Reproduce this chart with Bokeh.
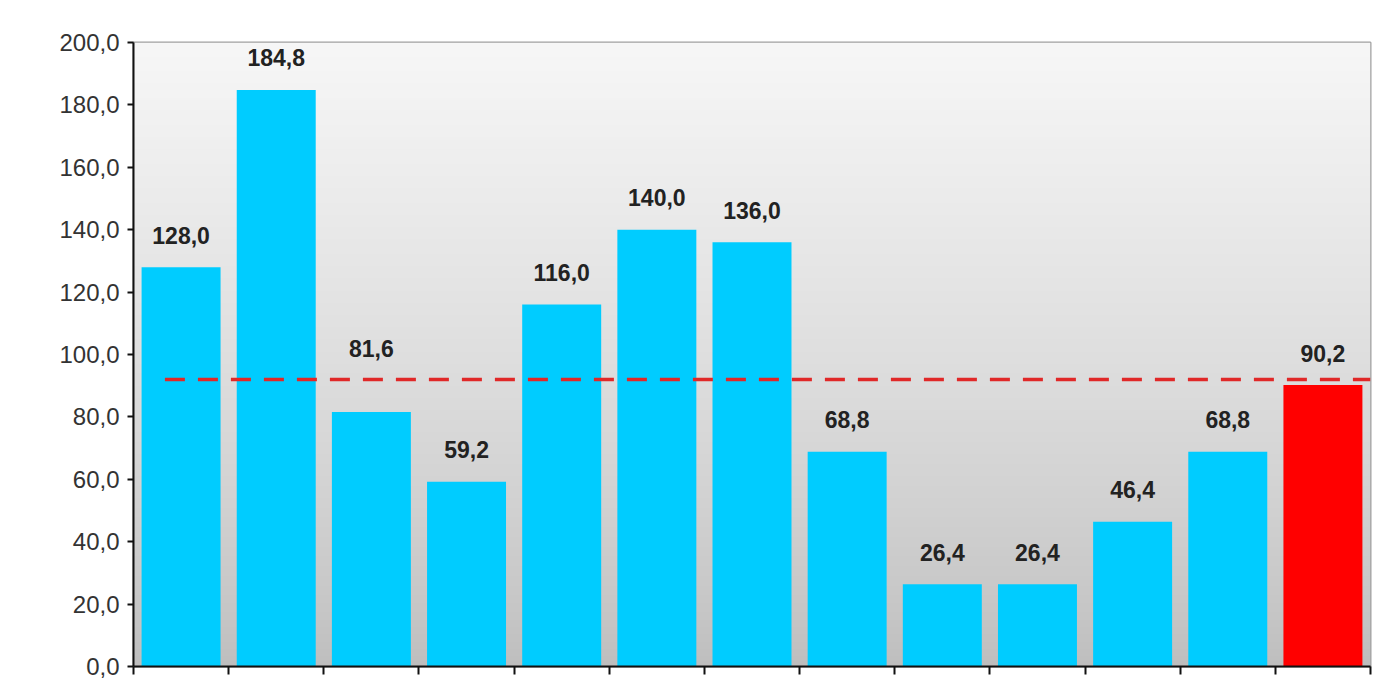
import numpy as np
from bokeh.plotting import figure
from bokeh.models import ColumnDataSource, FixedTicker, CustomJSTickFormatter, Range1d
from bokeh.core.properties import value
from bokeh.embed import file_html
from bokeh.resources import INLINE

# ---- data ----
values = [128.0, 184.8, 81.6, 59.2, 116.0, 140.0, 136.0, 68.8, 26.4, 26.4, 46.4, 68.8, 90.2]
bar_colors = ["#00CCFF"] * 12 + ["#FF0000"]
reference_line = 92.0
y_ticks = [0, 20, 40, 60, 80, 100, 120, 140, 160, 180, 200]

n = len(values)
cats = list(range(n))
labels = [f"{v:.1f}".replace(".", ",") for v in values]

TOP, BOTTOM = 42, 14
H = 680
FRAME_H = H - TOP - BOTTOM
px_per_unit = FRAME_H / 200.0
label_px = []
for v in values:
    off = 32
    if abs((v * px_per_unit + off) - reference_line * px_per_unit) < 15:
        off = reference_line * px_per_unit + 31 - v * px_per_unit
    label_px.append(off)
label_y = [v + o / px_per_unit for v, o in zip(values, label_px)]

src = ColumnDataSource(dict(x=cats, top=values, color=bar_colors, label=labels, ly=label_y))

p = figure(width=1379, height=H, output_backend="svg", toolbar_location=None,
           x_range=Range1d(-0.5, n - 0.5), y_range=Range1d(0, 200),
           min_border_left=133, min_border_right=9, min_border_top=TOP, min_border_bottom=BOTTOM)

# gradient background
rows = 256
t = np.linspace(0, 1, rows)
g = (190 + (247 - 190) * t ** 0.8).astype(np.uint32)
img = np.empty((rows, 1), dtype=np.uint32)
img[:, 0] = (255 << 24) | (g << 16) | (g << 8) | g
p.image_rgba(image=[img], x=-0.5, y=0, dw=n, dh=200)

p.vbar(x="x", top="top", bottom=0, width=0.83, color="color", line_color=None, source=src)

p.line(x=[cats[0] - 0.17, n - 0.5], y=[reference_line, reference_line],
       line_color="#E02828", line_width=3.5, line_dash="20 13")

p.text(x="x", y="ly", text="label", source=src, text_align="center", text_baseline="middle",
       text_font=value("Liberation Sans"), text_font_style="bold", text_font_size="23px",
       text_color="#222222")

p.xgrid.visible = False
p.ygrid.visible = False
p.background_fill_color = "white"
p.border_fill_color = "white"
p.outline_line_color = "#a0a0a0"
p.outline_line_width = 2

ya = p.yaxis[0]
ya.ticker = FixedTicker(ticks=y_ticks)
ya.formatter = CustomJSTickFormatter(code="return tick.toFixed(1).replace('.', ',');")
ya.axis_line_color = "#111111"
ya.axis_line_width = 2
ya.major_tick_in = 0
ya.major_tick_out = 6
ya.major_tick_line_color = "#111111"
ya.major_tick_line_width = 2
ya.minor_tick_line_color = None
ya.major_label_text_font = "Liberation Sans"
ya.major_label_text_font_size = "24px"
ya.major_label_text_color = "#333333"
ya.major_label_standoff = 8

xa = p.xaxis[0]
xa.ticker = FixedTicker(ticks=[c - 0.5 for c in cats] + [n - 0.5])
xa.formatter = CustomJSTickFormatter(code="return '';")
xa.major_label_standoff = 0
xa.axis_line_color = "#111111"
xa.axis_line_width = 2
xa.major_tick_in = 0
xa.major_tick_out = 8
xa.major_tick_line_color = "#111111"
xa.major_tick_line_width = 2
xa.minor_tick_line_color = None

open("out.html", "w").write(file_html(p, INLINE))
